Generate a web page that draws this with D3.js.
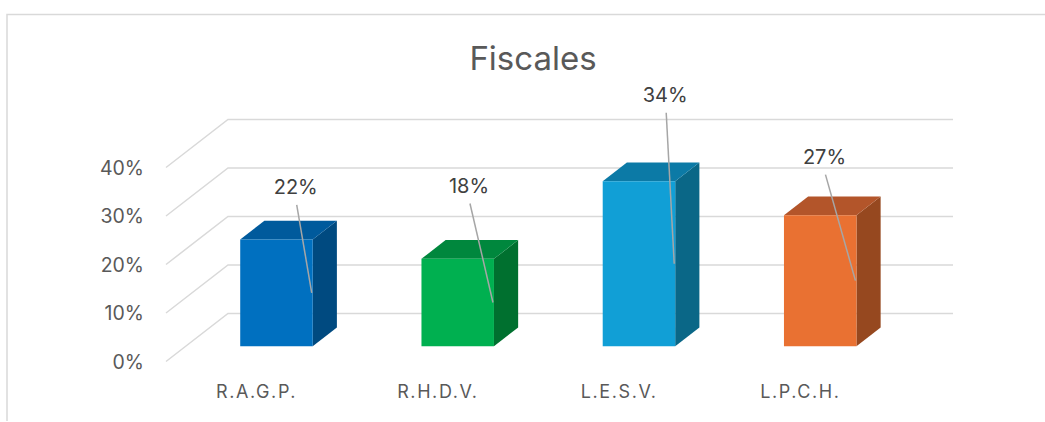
<!DOCTYPE html>
<html>

<head>
  <meta charset="utf8">
  <script src="https://d3js.org/d3.v7.min.js"></script>
  <style>
    body { margin: 0; background: #fff; }
    text { font-family: Inter, 'Open Sans', sans-serif; }
    .tick-label { fill: #595959; font-size: 19.5px; }
    .cat-label { fill: #595959; font-size: 18px; text-anchor: middle; letter-spacing: 1.6px; }
    .data-label { fill: #404040; font-size: 20px; text-anchor: middle; }
    .title { fill: #595959; font-size: 33px; text-anchor: middle; }
  </style>
</head>

<body>
  <svg id="chart" width="1045" height="422"></svg>
  <script>
    var categories = ['R.A.G.P.', 'R.H.D.V.', 'L.E.S.V.', 'L.P.C.H.'];
    var values = [0.22, 0.18, 0.34, 0.27];
    var tickValues = [0, 0.1, 0.2, 0.3, 0.4];

    var frontColors = ['#0070c0', '#00b050', '#119fd6', '#e97132'];
    var topColors = ['#005a9c', '#00873d', '#0c7aa6', '#b3552a'];
    var sideColors = ['#004a80', '#00702f', '#0a6787', '#96481f'];

    // hand-placed data labels, relative to the leader anchor on each bar
    var labelDx = [-17, -25, -10, -32];
    var labelDy = [-106, -117, -169, -124];

    var chart = d3.select('#chart');

    // depth of the floor (front plane -> back wall)
    var depthX = 62, depthY = -48;
    var barT1 = 0.32, barT2 = 0.71;

    var x = d3.scaleBand()
      .domain(categories)
      .range([166, 891])
      .paddingInner(0.6)
      .paddingOuter(0.3);

    var y = d3.scaleLinear()
      .domain([0, 0.4])
      .range([361.5, 167.5]);

    function pt(px, v, t) {
      return [px + t * depthX, y(v) + t * depthY];
    }

    // chart frame
    chart.append('path')
      .attr('d', 'M7,421V14.5H1045')
      .attr('fill', 'none')
      .attr('stroke', '#d9d9d9')
      .attr('stroke-width', 1.5);

    chart.append('text')
      .attr('class', 'title')
      .attr('x', 533)
      .attr('y', 70)
      .text('Fiscales');

    // gridlines: floor diagonal + back wall line
    var grid = chart.append('g');
    tickValues.forEach(function (v) {
      var a = pt(166, v, 0), b = pt(166, v, 1), c = pt(891, v, 1);
      grid.append('path')
        .attr('d', 'M' + a + 'L' + b + 'L' + c)
        .attr('fill', 'none')
        .attr('stroke', '#d9d9d9')
        .attr('stroke-width', 1.5);
    });

    chart.append('g').selectAll('text')
      .data(tickValues)
      .enter()
      .append('text')
      .attr('class', 'tick-label')
      .attr('x', 144)
      .attr('y', (d) => y(d))
      .attr('dy', '0.36em')
      .attr('text-anchor', 'end')
      .text(d3.format('.0%'));

    chart.append('g').selectAll('text')
      .data(categories)
      .enter()
      .append('text')
      .attr('class', 'cat-label')
      .attr('x', (d) => x(d) + x.bandwidth() / 2)
      .attr('y', 392)
      .attr('dy', '0.36em')
      .text((d) => d);

    var bars = chart.append('g').selectAll('g')
      .data(values)
      .enter()
      .append('g');

    function poly(pts) {
      return 'M' + pts.join('L') + 'Z';
    }

    bars.append('path')
      .attr('fill', (d, i) => sideColors[i])
      .attr('d', function (d, i) {
        var x1 = x(categories[i]) + x.bandwidth();
        return poly([pt(x1, 0, barT1), pt(x1, 0, barT2), pt(x1, d, barT2), pt(x1, d, barT1)]);
      });

    bars.append('path')
      .attr('fill', (d, i) => topColors[i])
      .attr('d', function (d, i) {
        var x0 = x(categories[i]), x1 = x0 + x.bandwidth();
        return poly([pt(x0, d, barT1), pt(x1, d, barT1), pt(x1, d, barT2), pt(x0, d, barT2)]);
      });

    bars.append('path')
      .attr('fill', (d, i) => frontColors[i])
      .attr('d', function (d, i) {
        var x0 = x(categories[i]), x1 = x0 + x.bandwidth();
        return poly([pt(x0, 0, barT1), pt(x1, 0, barT1), pt(x1, d, barT1), pt(x0, d, barT1)]);
      });

    // leader lines + labels
    bars.each(function (d, i) {
      var x1 = x(categories[i]) + x.bandwidth();
      var top = pt(x1, d, barT1), bottom = pt(x1, 0, barT1);
      var ax = top[0], ay = (top[1] + bottom[1]) / 2;
      var lx = ax + labelDx[i], ly = ay + labelDy[i];
      var g = d3.select(this);
      g.append('line')
        .attr('x1', lx + 1)
        .attr('y1', ly + 18)
        .attr('x2', ax - 1)
        .attr('y2', ay)
        .attr('stroke', '#a6a6a6')
        .attr('stroke-width', 1.5);
      g.append('text')
        .attr('class', 'data-label')
        .attr('x', lx)
        .attr('y', ly)
        .attr('dy', '0.36em')
        .text(d3.format('.0%')(d));
    });
  </script>
</body>

</html>
